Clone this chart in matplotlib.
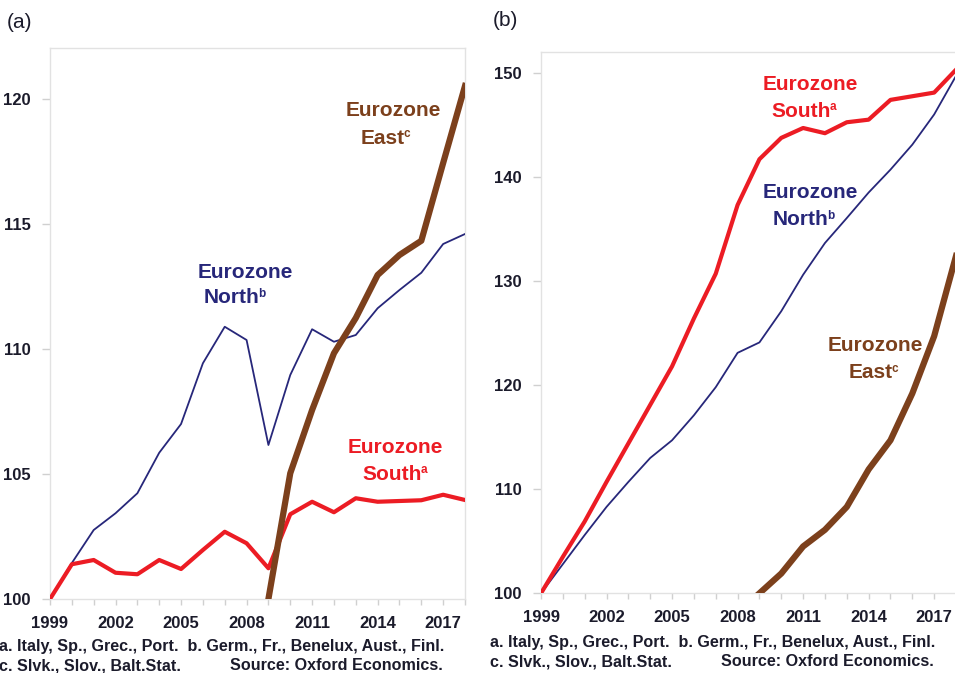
import matplotlib
matplotlib.use("Agg")
import matplotlib.pyplot as plt
from matplotlib.ticker import MultipleLocator

plt.rcParams['font.family'] = ['Liberation Sans', 'DejaVu Sans']

# Panel (a): index, 1999 = 100 (East from 2009 = 100)
years = list(range(1999, 2019))
a_south = [100, 101.39, 101.56, 101.05, 100.99, 101.56, 101.2, 101.96, 102.69, 102.23,
           101.23, 103.39, 103.89, 103.47, 104.03, 103.89, 103.92, 103.95, 104.17, 103.96]
a_north = [100, 101.44, 102.76, 103.43, 104.23, 105.85, 107.0, 109.43, 110.89, 110.36,
           106.16, 108.96, 110.79, 110.29, 110.56, 111.63, 112.36, 113.05, 114.2, 114.6]
east_years = list(range(2009, 2019))
a_east = [100, 105.03, 107.56, 109.83, 111.24, 112.96, 113.76, 114.33, 117.44, 120.52]

# Panel (b)
b_south = [100, 103.5, 106.9, 110.7, 114.4, 118.1, 121.8, 126.4, 130.7, 137.3,
           141.7, 143.75, 144.7, 144.2, 145.25, 145.5, 147.4, 147.75, 148.1, 150.3]
b_north = [100, 102.8, 105.6, 108.3, 110.7, 113.0, 114.7, 117.1, 119.8, 123.1,
           124.1, 127.1, 130.6, 133.65, 136.05, 138.5, 140.7, 143.1, 146.0, 149.7]
b_east = [100, 101.9, 104.5, 106.1, 108.3, 111.9, 114.7, 119.2, 124.7, 132.4]

year_ticks = [1999, 2002, 2005, 2008, 2011, 2014, 2017]
a_yticks = [100, 105, 110, 115, 120]
b_yticks = [100, 110, 120, 130, 140, 150]

RED = '#ec1c24'
NAVY = '#27277a'
BROWN = '#7c401c'
TXT = '#1b1b2b'
SPINE = '#e2e2e2'

W, H = 955, 673
fig = plt.figure(figsize=(W / 100, H / 100), dpi=100)


def px_axes(x0, x1, y_top, y_bot):
    return fig.add_axes([x0 / W, 1 - y_bot / H, (x1 - x0) / W, (y_bot - y_top) / H])


def style(ax, yticks):
    ax.set_xlim(1999, 2018)
    ax.set_xticks(year_ticks)
    ax.xaxis.set_minor_locator(MultipleLocator(1))
    ax.set_yticks(yticks)
    for s in ax.spines.values():
        s.set_color(SPINE)
        s.set_linewidth(1)
    ax.tick_params(which='both', color='#d0d0d0', direction='out', width=1)
    ax.tick_params(axis='y', length=6, pad=8, labelsize=12)
    ax.tick_params(axis='x', which='major', length=4, pad=8, labelsize=12)
    ax.tick_params(axis='x', which='minor', length=4)
    for lab in ax.get_xticklabels() + ax.get_yticklabels():
        lab.set_fontweight('bold')
        lab.set_color(TXT)


def label(ax, x1, y1, x2, y2, word, sup, color):
    ax.text(x1, y1, 'Eurozone', color=color, fontsize=15, fontweight='bold',
            ha='center', va='center')
    t = ax.text(x2, y2, word, color=color, fontsize=15, fontweight='bold',
                ha='center', va='center')
    ax.annotate(sup, xy=(1.0, 0.55), xycoords=t, xytext=(-0.8, 0), textcoords='offset points',
                color=color, fontsize=8.5, fontweight='bold', ha='left', va='baseline')


# ---- panel (a)
ax1 = px_axes(50, 465, 48, 599)
ax1.plot(years, a_north, color=NAVY, lw=1.3, zorder=3)
ax1.plot(years, a_south, color=RED, lw=3.0, zorder=4)
ax1.plot(east_years, a_east, color=BROWN, lw=4.5, zorder=5)
ax1.set_ylim(100, 122.04)
style(ax1, a_yticks)
label(ax1, 2014.7, 119.56, 2014.21, 118.44, 'East', 'c', BROWN)
label(ax1, 2007.93, 113.08, 2007.32, 112.04, 'North', 'b', NAVY)
label(ax1, 2014.82, 106.07, 2014.67, 105.0, 'South', 'a', RED)

# ---- panel (b)
ax2 = px_axes(541, 956, 52, 593.3)
ax2.plot(years, b_north, color=NAVY, lw=1.3, zorder=3)
ax2.plot(years, b_south, color=RED, lw=3.0, zorder=4)
ax2.plot(east_years, b_east, color=BROWN, lw=4.5, zorder=5)
ax2.set_ylim(100, 152.0)
style(ax2, b_yticks)
label(ax2, 2011.32, 148.88, 2010.9, 146.3, 'South', 'a', RED)
label(ax2, 2011.35, 138.5, 2010.86, 135.9, 'North', 'b', NAVY)
label(ax2, 2014.29, 123.78, 2014.11, 121.2, 'East', 'c', BROWN)

# ---- panel letters and footnotes
fig.text(7 / W, 1 - 22 / H, '(a)', fontsize=15, color=TXT, va='center')
fig.text(493 / W, 1 - 20 / H, '(b)', fontsize=15, color=TXT, va='center')

for x0, y0 in [(-1, 646), (490, 642)]:
    fig.text(x0 / W, 1 - y0 / H,
             'a. Italy, Sp., Grec., Port.  b. Germ., Fr., Benelux, Aust., Finl.',
             fontsize=11.6, fontweight='bold', color=TXT, va='center')
    fig.text(x0 / W, 1 - (y0 + 20) / H, 'c. Slvk., Slov., Balt.Stat.',
             fontsize=11.6, fontweight='bold', color=TXT, va='center')
    fig.text((x0 + 231) / W, 1 - (y0 + 20) / H, 'Source: Oxford Economics.',
             fontsize=11.6, fontweight='bold', color=TXT, va='center')

fig.savefig('out.png', dpi=100)
